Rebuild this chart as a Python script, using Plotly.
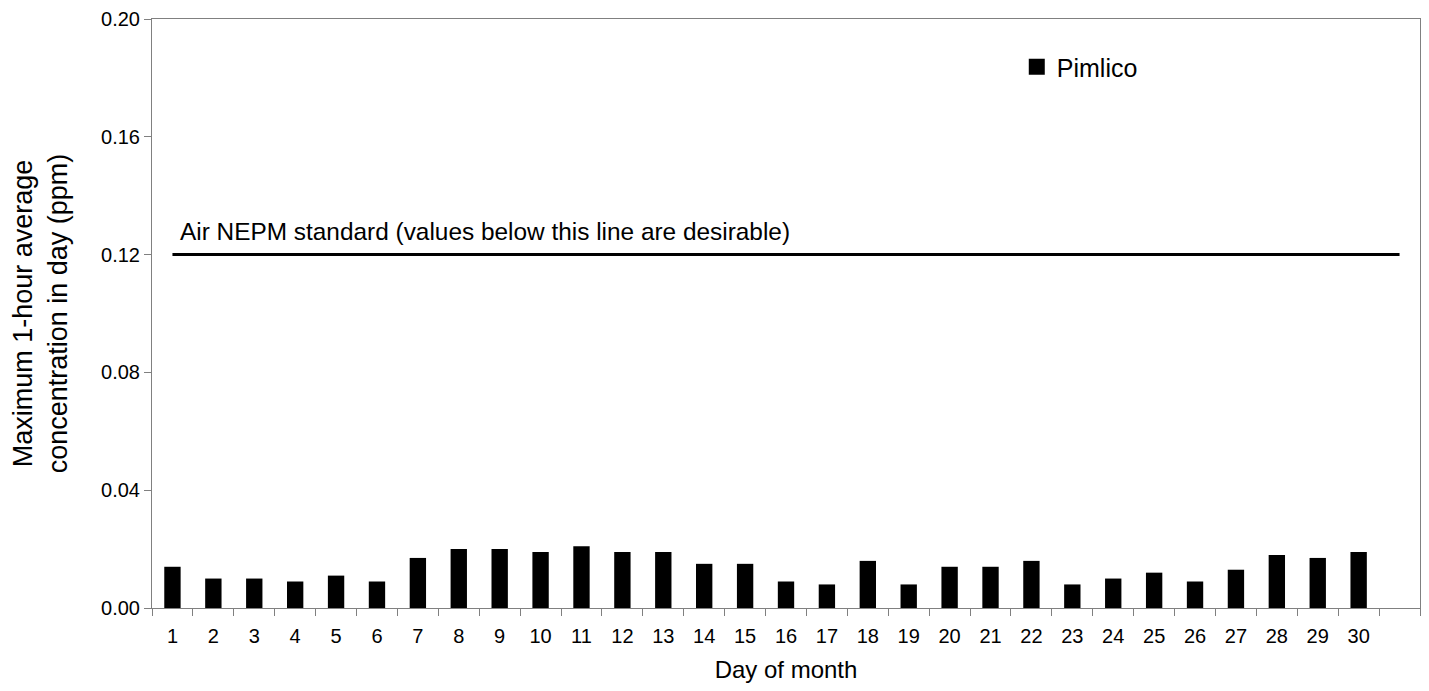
import plotly.graph_objects as go

days = list(range(1, 31))
pimlico = [0.014, 0.010, 0.010, 0.009, 0.011, 0.009, 0.017, 0.020, 0.020, 0.019,
           0.021, 0.019, 0.019, 0.015, 0.015, 0.009, 0.008, 0.016, 0.008, 0.014,
           0.014, 0.016, 0.008, 0.010, 0.012, 0.009, 0.013, 0.018, 0.017, 0.019]
standard_x = list(range(1, 32))
standard_value = 0.12
standard_y = [standard_value] * len(standard_x)
y_ticks = [0.00, 0.04, 0.08, 0.12, 0.16, 0.20]

FONT = "Liberation Sans, Arial, sans-serif"
AXIS_GRAY = "#808080"

fig = go.Figure()
fig.add_trace(go.Bar(
    x=days, y=pimlico, name="Pimlico",
    marker=dict(color="black", line=dict(width=0)),
    width=0.4, showlegend=False,
))
# legend entry (square swatch like the original)
fig.add_trace(go.Scatter(
    x=[None], y=[None], mode="markers", name="Pimlico",
    marker=dict(symbol="square", size=16, color="black"),
    showlegend=True,
))
fig.add_trace(go.Scatter(
    x=standard_x, y=standard_y, mode="lines",
    line=dict(color="black", width=3),
    showlegend=False, hoverinfo="skip",
))

fig.add_annotation(
    x=0.0205, xref="paper", y=0.128, yref="y",
    text="Air NEPM standard (values below this line are desirable)",
    showarrow=False, xanchor="left", yanchor="middle",
    font=dict(family=FONT, size=24.4, color="black"),
)

fig.update_layout(
    width=1413, height=675,
    margin=dict(l=144, r=1, t=11, b=75),
    paper_bgcolor="white", plot_bgcolor="white",
    font=dict(family=FONT, color="black"),
    showlegend=True,
    legend=dict(
        x=0.682, y=0.9185, xanchor="left", yanchor="middle",
        bgcolor="rgba(0,0,0,0)", borderwidth=0,
        font=dict(family=FONT, size=25, color="black"),
        itemwidth=30,
    ),
    xaxis=dict(
        range=[0.5, 31.5],
        tickvals=days, ticktext=[str(d) for d in days],
        ticks="outside", ticklen=10, tickcolor="rgba(0,0,0,0)",
        showgrid=False, zeroline=False,
        showline=True, linecolor=AXIS_GRAY, linewidth=1, mirror=True,
        tickfont=dict(family=FONT, size=20, color="black"),
        minor=dict(tickvals=[d + 0.5 for d in range(0, 32)], ticks="outside",
                   ticklen=7, tickcolor=AXIS_GRAY, tickwidth=1, showgrid=False),
        title=dict(text="Day of month", font=dict(family=FONT, size=24, color="black"),
                   standoff=17),
    ),
    yaxis=dict(
        range=[0, 0.20],
        tickvals=y_ticks, tickformat=".2f",
        ticks="outside", ticklen=7, tickcolor=AXIS_GRAY,
        showgrid=False, zeroline=False,
        showline=True, linecolor=AXIS_GRAY, linewidth=1, mirror=True,
        tickfont=dict(family=FONT, size=20, color="black"),
        title=dict(text="Maximum 1-hour average<br>concentration in day (ppm)",
                   font=dict(family=FONT, size=27, color="black"), standoff=27),
    ),
)

fig.write_html("out.html")
